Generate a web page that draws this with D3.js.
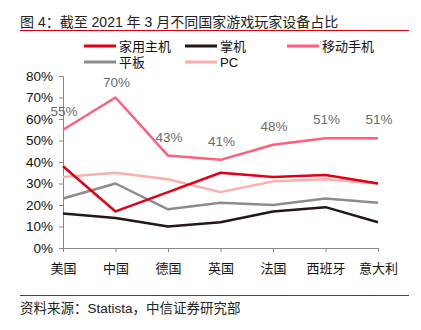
<!DOCTYPE html>
<html>
<head>
<meta charset="utf-8">
<script src="https://cdn.jsdelivr.net/npm/d3@7"></script>
<style>
  body { margin: 0; background: #fff; }
  text { font-family: "Liberation Sans", "Noto Sans CJK SC", sans-serif; }
</style>
</head>
<body>
<svg id="chart" width="421" height="330"></svg>
<script>
const countries = ["美国", "中国", "德国", "英国", "法国", "西班牙", "意大利"]
const console_ = [38, 17, 26, 35, 33, 34, 30]
const handheld = [16, 14, 10, 12, 17, 19, 12]
const mobile = [55, 70, 43, 41, 48, 51, 51]
const tablet = [23, 30, 18, 21, 20, 23, 21]
const pc = [33, 35, 32, 26, 31, 32, 30]
const yTicks = [0, 10, 20, 30, 40, 50, 60, 70, 80]

const series = [
    {name: "家用主机", values: console_, color: "#e00012"},
    {name: "掌机", values: handheld, color: "#231815"},
    {name: "移动手机", values: mobile, color: "#ff6079"},
    {name: "平板", values: tablet, color: "#8c8c8c"},
    {name: "PC", values: pc, color: "#ffacac"}
]

const svg = d3.select('#chart')

const x = d3.scalePoint().domain(countries).range([63, 378])
const y = d3.scaleLinear().domain([0, 80]).range([248, 76])

// title + rules
svg.append('text')
    .attr('x', 20).attr('y', 27)
    .attr('font-size', 14).attr('fill', '#222')
    .text('图 4：截至 2021 年 3 月不同国家游戏玩家设备占比')
svg.append('line').attr('x1', 20).attr('x2', 409).attr('y1', 30.5).attr('y2', 30.5)
    .attr('stroke', '#e00012').attr('stroke-width', 1)
svg.append('line').attr('x1', 20).attr('x2', 409).attr('y1', 295.5).attr('y2', 295.5)
    .attr('stroke', '#e00012').attr('stroke-width', 1)
svg.append('text')
    .attr('x', 20).attr('y', 313)
    .attr('font-size', 13.5).attr('fill', '#222')
    .text('资料来源：Statista，中信证券研究部')

// legend
const legendPos = [[84, 46], [185, 46], [287, 46], [84, 62], [185, 62]]
const legend = svg.append('g').selectAll('g')
    .data(series)
    .join('g')
    .attr('transform', (d, i) => `translate(${legendPos[i][0]},${legendPos[i][1]})`)
legend.append('line').attr('x1', 0).attr('x2', 32)
    .attr('stroke', d => d.color).attr('stroke-width', 3)
legend.append('text').attr('x', 35).attr('y', 5)
    .attr('font-size', 13).attr('fill', '#111')
    .text(d => d.name)

// axes
const yAxis = svg.append('g')
    .attr('transform', 'translate(63,0)')
    .call(d3.axisLeft(y).tickValues(yTicks).tickSize(4).tickPadding(6).tickFormat(d => d + '%'))
const xAxis = svg.append('g')
    .attr('transform', 'translate(0,248)')
    .call(d3.axisBottom(x).tickSize(4).tickPadding(12))
for (const ax of [yAxis, xAxis]) {
    ax.select('.domain').attr('stroke', '#888')
    ax.selectAll('.tick line').attr('stroke', '#888')
    ax.selectAll('.tick text').attr('font-size', 13.5).attr('fill', '#111')
}
xAxis.selectAll('.tick text').attr('font-family', '"Noto Sans CJK SC", sans-serif').attr('font-size', 13)

// lines
const line = d3.line()
    .x((d, i) => x(countries[i]))
    .y(d => y(d))
svg.append('g').selectAll('path')
    .data(series.slice().reverse())
    .join('path')
    .attr('d', d => line(d.values))
    .attr('fill', 'none')
    .attr('stroke', d => d.color)
    .attr('stroke-width', 2.5)
    .attr('stroke-linejoin', 'round')

// mobile data labels (kept inside the plot top)
svg.append('g').selectAll('text')
    .data(mobile)
    .join('text')
    .attr('x', (d, i) => x(countries[i]) + 1)
    .attr('y', d => Math.max(y(d) - 14, y(80) + 11))
    .attr('text-anchor', 'middle')
    .attr('font-size', 13.5)
    .attr('font-family', 'Roboto, sans-serif')
    .attr('fill', '#6b6b6b')
    .text(d => d + '%')
</script>
</body>
</html>
